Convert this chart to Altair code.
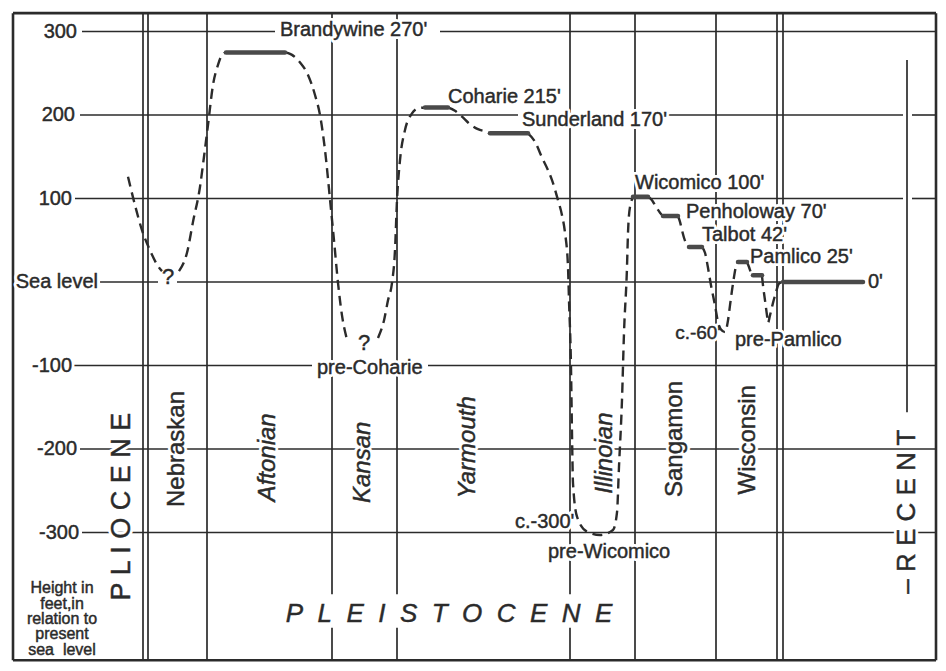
import altair as alt
import pandas as pd

INK = "#2b2b2b"
BAR = "#4a4a4a"
FONT = "Liberation Sans"
NB = "\u00a0"

# ---------------- data ----------------
# vertical scale: feet relative to present sea level
tick_text = ["300", "200", "100", "Sea level", "-100", "-200", "-300"]
tick_ft = [300, 200, 100, 0, -100, -200, -300]
tick_right = [77, 75, 72, 98, 72, 77, 79]

# horizontal grid segments (height in ft, start / end along the time axis)
grid_ft = [300, 300, 200, 200, 200, 100, 100, 0, 0, -100, -100, -200, -300]
grid_from = [82, 440, 80, 665, 912, 75, 912, 100, 177, 72, 428, 80, 82]
grid_to = [275, 936, 518, 903, 936, 903, 936, 158, 863, 312, 936, 936, 936]

# stage boundaries along the time axis
full_lines = [207, 635, 716]
broken_lines = [332, 397, 570]          # interrupted by "PLEISTOCENE"
double_lines = [143, 148, 777, 783]     # epoch boundaries
frame_left, frame_right, frame_top, frame_bottom = 13, 936, 322, -453
recent_x, recent_top, recent_bottom = 907, 266, -156
gap_top, gap_bottom = -374, -414

# stage names (rotated)
stage_names = ["Nebraskan", "Aftonian", "Kansan", "Yarmouth", "Illinoian", "Sangamon", "Wisconsin"]
stage_x = [177, 268, 363, 468, 605, 675, 748]
stage_ft = [-200, -210, -216, -198, -205, -188, -189]
stage_italic = [False, True, True, True, True, False, False]

# sea-level curve, dashed segments (time position, height ft)
curve = {
    1: ([128, 135, 142, 150, 158, 162], [126, 92, 62, 38, 19, 13]),
    2: ([179, 187, 193, 200, 204, 208, 213, 218, 222, 226],
        [13, 35, 72, 114, 150, 188, 236, 260, 272, 275]),
    3: ([286, 292, 300, 308, 315, 320, 325, 330, 334, 338, 342, 347],
        [275, 272, 263, 248, 224, 200, 158, 99, 50, -1, -40, -69]),
    4: ([378, 384, 388, 392, 395, 397, 400, 405, 412, 418, 425],
        [-67, -46, -22, -1, 38, 98, 146, 182, 202, 208, 209]),
    5: ([448, 455, 462, 470, 478, 486, 490], [209, 205, 198, 189, 183, 180, 178]),
    6: ([528, 535, 542, 548, 552, 558, 562, 565, 568, 569, 571, 572, 573, 577, 587,
         600, 613, 617, 619, 622, 624, 627, 628, 630, 633],
        [178, 168, 149, 134, 122, 98, 80, 59, 18, -22, -102, -181, -241, -281, -299,
         -303, -297, -276, -221, -141, -61, 18, 59, 90, 101]),
    7: ([648, 652, 656, 660, 663], [102, 98, 90, 83, 79]),
    8: ([678, 680, 682, 684, 687, 689], [79, 72, 62, 53, 44, 42]),
    9: ([702, 705, 708, 711, 715, 718, 721, 725, 728, 730, 732, 734, 736, 738],
        [42, 35, 17, -4, -28, -48, -57, -60, -46, -28, -10, 6, 19, 24]),
    10: ([747, 749, 751, 753], [24, 18, 11, 8]),
    11: ([762, 763, 765, 767, 768, 770, 773, 776, 779, 783],
         [7, -4, -22, -40, -49, -40, -25, -12, -2, 0]),
}

# terraces (thick bars)
terrace_from = [226, 425, 490, 633, 663, 689, 738, 753, 783]
terrace_to = [285, 448, 528, 648, 678, 702, 747, 762, 863]
terrace_ft = [275, 209, 178, 102, 79, 42, 24, 8, 0]

# curve labels
lab_text = ["Brandywine 270'", "Coharie 215'", "Sunderland 170'", "Wicomico 100'",
            "Penholoway 70'", "Talbot 42'", "Pamlico 25'", "0'", "pre-Pamlico",
            "c.-300'", "pre-Wicomico", "pre-Coharie"]
lab_x = [280, 448, 522, 635, 686, 702, 750, 868, 735, 515, 548, 317]
lab_ft = [302, 222, 194, 119, 84, 56, 30, 0, -69, -287, -323, -103]
q_x = [168, 364]
q_ft = [6, -73]
c60_x, c60_ft = 721, -61

# ---------------- chart ----------------
W, H = 930, 655
SEA_PX, PX_PER_FT = 282, 0.835
ft_top = (SEA_PX - 8) / PX_PER_FT
ft_bot = (SEA_PX - (8 + H)) / PX_PER_FT
xs = alt.Scale(domain=[8, 8 + W], nice=False, zero=False)
ys = alt.Scale(domain=[ft_bot, ft_top], nice=False, zero=False)


def X(f):
    return alt.X(f + ":Q", scale=xs, axis=None)


def Y(f):
    return alt.Y(f + ":Q", scale=ys, axis=None)


layers = []

grid_df = pd.DataFrame({"y": grid_ft, "x": grid_from, "x2": grid_to})
layers.append(alt.Chart(grid_df).mark_rule(color=INK, strokeWidth=1.6).encode(
    x=X("x"), x2="x2", y=Y("y")))

vx, vy1, vy2 = [], [], []
for v in full_lines + double_lines:
    vx.append(v); vy1.append(frame_top); vy2.append(frame_bottom)
for v in broken_lines:
    vx += [v, v]; vy1 += [frame_top, gap_bottom]; vy2 += [gap_top, frame_bottom]
vx.append(recent_x); vy1.append(recent_top); vy2.append(recent_bottom)
vdf = pd.DataFrame({"x": vx, "y": vy1, "y2": vy2})
layers.append(alt.Chart(vdf).mark_rule(color=INK, strokeWidth=1.7).encode(
    x=X("x"), y=Y("y"), y2="y2"))

frame_h = pd.DataFrame({"y": [frame_top, frame_bottom], "x": [frame_left] * 2, "x2": [frame_right] * 2})
frame_v = pd.DataFrame({"x": [frame_left, frame_right], "y": [frame_top] * 2, "y2": [frame_bottom] * 2})
layers.append(alt.Chart(frame_h).mark_rule(color=INK, strokeWidth=2.6).encode(x=X("x"), x2="x2", y=Y("y")))
layers.append(alt.Chart(frame_v).mark_rule(color=INK, strokeWidth=2.6).encode(x=X("x"), y=Y("y"), y2="y2"))

text_groups = []


def add_text(df, halo=True, **style):
    enc = dict(x=X("x"), y=Y("y"), text=alt.Text("t:N"))
    h = None
    if halo:
        h = alt.Chart(df).mark_text(font=FONT, fill="white", stroke="white", strokeWidth=6,
                                    strokeJoin="round", **style).encode(**enc)
    ink = alt.Chart(df).mark_text(font=FONT, fill=INK, stroke=INK, strokeWidth=0.45,
                                  **style).encode(**enc)
    text_groups.append((h, ink))


add_text(pd.DataFrame({"t": tick_text, "x": tick_right, "y": tick_ft}),
         fontSize=20, align="right", baseline="middle")
add_text(pd.DataFrame({"t": lab_text, "x": lab_x, "y": lab_ft}),
         fontSize=20, align="left", baseline="middle")
add_text(pd.DataFrame({"t": ["?", "?"], "x": q_x, "y": q_ft}),
         fontSize=22, align="center", baseline="middle")
add_text(pd.DataFrame({"t": ["c.-60'"], "x": [c60_x], "y": [c60_ft]}),
         fontSize=19, align="right", baseline="middle")
st = pd.DataFrame({"t": stage_names, "x": stage_x, "y": stage_ft, "it": stage_italic})
add_text(st[st.it].drop(columns="it"), fontSize=24, angle=270, align="center",
         baseline="middle", fontStyle="italic")
add_text(st[~st.it].drop(columns="it"), fontSize=24, angle=270, align="center",
         baseline="middle")
add_text(pd.DataFrame({"t": ["P L I O C E N E"], "x": [122], "y": [-269]}),
         fontSize=27, angle=270, align="center", baseline="middle")
add_text(pd.DataFrame({"t": ["\u2013 R E C E N T"], "x": [907], "y": [-275]}),
         fontSize=26, angle=270, align="center", baseline="middle")
add_text(pd.DataFrame({"t": [(NB * 2).join("PLEISTOCENE")], "x": [449], "y": [-398]}),
         fontSize=26, align="center", baseline="middle", fontStyle="italic")
add_text(pd.DataFrame({"t": ["Height in\nfeet,in\nrelation to\npresent\nsea" + NB * 2 + "level"],
                       "x": [62], "y": [-367]}),
         halo=False, fontSize=16, align="center", baseline="middle", lineBreak="\n",
         lineHeight=15.3)

for h, _ in text_groups:
    if h is not None:
        layers.append(h)

rows = []
for seg, (cx, cy) in curve.items():
    for i, (a, b) in enumerate(zip(cx, cy)):
        rows.append({"seg": seg, "i": i, "x": a, "y": b})
curve_df = pd.DataFrame(rows)
layers.append(alt.Chart(curve_df).mark_line(color=INK, strokeWidth=2.4, strokeDash=[10, 6],
                                            interpolate="monotone").encode(
    x=X("x"), y=Y("y"), detail="seg:N", order="i:Q"))

terr = pd.DataFrame({"x": terrace_from, "x2": terrace_to, "y": terrace_ft})
layers.append(alt.Chart(terr).mark_rule(color=BAR, strokeWidth=4.5, strokeCap="round").encode(
    x=X("x"), x2="x2", y=Y("y")))

for _, ink in text_groups:
    layers.append(ink)

chart = alt.layer(*layers).properties(
    width=W, height=H, padding=0, autosize="none", background="white"
).configure_view(stroke=None)

chart.save("out.html", embed_options={"renderer": "svg", "actions": False})
